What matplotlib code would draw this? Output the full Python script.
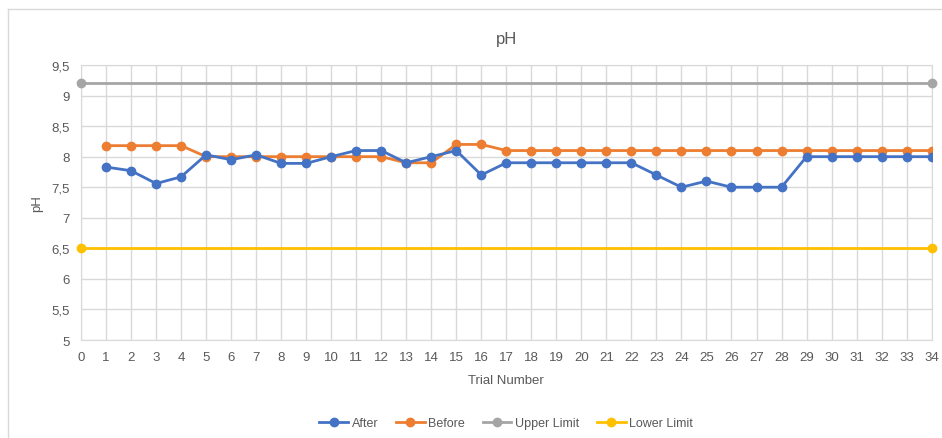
import matplotlib
matplotlib.use('Agg')
import matplotlib.pyplot as plt
from matplotlib.ticker import FuncFormatter, MultipleLocator
from matplotlib.lines import Line2D

trials = list(range(1, 35))
after = [7.83, 7.77, 7.56, 7.67, 8.03, 7.95, 8.03, 7.89, 7.89, 8.0,
         8.1, 8.1, 7.9, 8.0, 8.1, 7.7, 7.9, 7.9, 7.9, 7.9,
         7.9, 7.9, 7.7, 7.5, 7.6, 7.5, 7.5, 7.5, 8.0, 8.0,
         8.0, 8.0, 8.0, 8.0]
before = [8.18, 8.18, 8.18, 8.18, 8.0, 8.0, 8.0, 8.0, 8.0, 8.0,
          8.0, 8.0, 7.9, 7.9, 8.2, 8.2, 8.1, 8.1, 8.1, 8.1,
          8.1, 8.1, 8.1, 8.1, 8.1, 8.1, 8.1, 8.1, 8.1, 8.1,
          8.1, 8.1, 8.1, 8.1]
limit_x = [0, 34]
upper_limit = [9.2, 9.2]
lower_limit = [6.5, 6.5]

plt.rcParams['font.family'] = ['Liberation Sans', 'DejaVu Sans']
txt = '#595959'

fig = plt.figure(figsize=(9.42, 4.39), dpi=100)
ax = fig.add_axes([0.086, 0.2232, 0.903, 0.6265])

ax.plot(trials, after, color='#4472C4', marker='o', markersize=6, lw=2, label='After', zorder=4)
ax.plot(trials, before, color='#ED7D31', marker='o', markersize=6, lw=2, label='Before', zorder=3)
ax.plot(limit_x, upper_limit, color='#A5A5A5', marker='o', markersize=6, lw=2, label='Upper Limit',
        clip_on=False, zorder=3)
ax.plot(limit_x, lower_limit, color='#FFC000', marker='o', markersize=6, lw=2, label='Lower Limit',
        clip_on=False, zorder=3)

ax.set_xlim(0, 34)
ax.set_ylim(5, 9.5)
ax.xaxis.set_major_locator(MultipleLocator(1))
ax.yaxis.set_major_locator(MultipleLocator(0.5))
ax.yaxis.set_major_formatter(FuncFormatter(lambda v, p: ('%g' % v).replace('.', ',')))
ax.grid(True, color='#D9D9D9', lw=1)
ax.set_axisbelow(True)
for s in ax.spines.values():
    s.set_color('#D9D9D9')
ax.tick_params(length=0, labelsize=9.5, colors=txt, pad=8)

ax.set_title('pH', fontsize=12, color=txt, pad=16)
ax.set_xlabel('Trial Number', fontsize=9.5, color=txt, labelpad=8)
ax.set_ylabel('pH', fontsize=9.5, color=txt, labelpad=6)

ax.legend(loc='upper center', bbox_to_anchor=(0.5, -0.24), ncol=4, frameon=False,
          fontsize=9, labelcolor=txt, handlelength=2.3, handletextpad=0.3,
          columnspacing=1.4)

# outer chart border (left and top edges visible)
fig.add_artist(Line2D([8 / 942, 8 / 942], [0, 1 - 10 / 439], color='#D9D9D9', lw=1))
fig.add_artist(Line2D([8 / 942, 1], [1 - 10 / 439, 1 - 10 / 439], color='#D9D9D9', lw=1))

fig.savefig('out.png', dpi=100)
